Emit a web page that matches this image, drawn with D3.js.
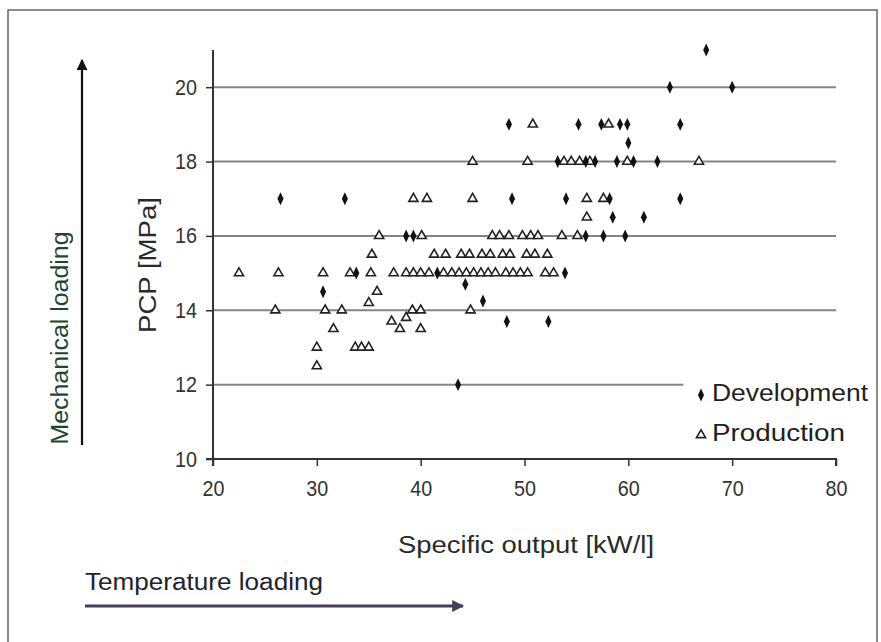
<!DOCTYPE html>
<html>
<head>
<meta charset="utf-8">
<script src="https://d3js.org/d3.v7.min.js"></script>
<style>
  body { margin: 0; background: #fff; }
  text { font-family: "Liberation Sans", Arial, sans-serif; }
</style>
</head>
<body>
<svg id="chart" width="881" height="642"></svg>
<script>
// data: [specific output kW/l, PCP MPa]
const development = [
  [67.5, 21], [64, 20], [70, 20],
  [48.5, 19], [55.2, 19], [57.4, 19], [59.2, 19], [59.9, 19], [65, 19],
  [60, 18.5],
  [53.2, 18], [55.9, 18], [56.8, 18], [58.9, 18], [60.5, 18], [62.8, 18],
  [26.5, 17], [32.7, 17], [48.8, 17], [54, 17], [58.2, 17], [65, 17],
  [58.5, 16.5], [61.5, 16.5],
  [38.6, 16], [39.3, 16], [55.9, 16], [57.6, 16], [59.7, 16],
  [33.8, 15], [41.6, 15], [53.9, 15],
  [44.3, 14.7], [30.6, 14.5], [46, 14.25],
  [48.3, 13.7], [52.3, 13.7],
  [43.6, 12]
];
const production = [
  [50.8, 19], [58.1, 19],
  [45, 18], [50.3, 18], [53.8, 18], [54.5, 18], [55.3, 18], [56.3, 18], [59.9, 18], [66.8, 18],
  [39.3, 17], [40.6, 17], [45, 17], [56, 17], [57.6, 17],
  [56, 16.5],
  [36, 16], [40.1, 16], [46.9, 16], [47.6, 16], [48.5, 16], [49.8, 16], [50.6, 16], [51.3, 16], [53.6, 16], [55.1, 16],
  [35.3, 15.5], [41.3, 15.5], [42.4, 15.5], [43.9, 15.5], [44.7, 15.5], [45.9, 15.5], [46.7, 15.5],
  [47.9, 15.5], [48.6, 15.5], [50.2, 15.5], [51, 15.5], [52.2, 15.5],
  [22.5, 15], [26.3, 15], [30.6, 15], [33.2, 15], [35.2, 15], [37.4, 15], [38.6, 15], [39.3, 15],
  [40, 15], [40.8, 15], [42.2, 15], [43, 15], [43.7, 15], [44.4, 15], [45.1, 15], [45.8, 15],
  [46.5, 15], [47.2, 15], [48.2, 15], [48.9, 15], [49.6, 15], [50.3, 15], [52, 15], [52.8, 15],
  [35.8, 14.5], [35, 14.2],
  [26, 14], [30.8, 14], [32.4, 14], [39.2, 14], [40, 14], [44.8, 14],
  [37.2, 13.7], [38.6, 13.8],
  [31.6, 13.5], [38, 13.5], [40, 13.5],
  [30, 13], [33.7, 13], [34.3, 13], [35, 13],
  [30, 12.5]
];
const xTicks = [20, 30, 40, 50, 60, 70, 80];
const yTicks = [10, 12, 14, 16, 18, 20];
const gridLines = [[12, 65.3], [14, 80], [16, 80], [18, 80], [20, 80]];

const svg = d3.select('svg#chart');

// frame
svg.append('rect')
  .attr('x', 8).attr('y', 10).attr('width', 869).attr('height', 640)
  .attr('fill', 'none').attr('stroke', '#666').attr('stroke-width', 1.5);

const x = d3.scaleLinear().domain([20, 80]).range([213, 836]);
const y = d3.scaleLinear().domain([10, 21]).range([459, 50]);

// grid
svg.append('g').selectAll('line')
  .data(gridLines)
  .join('line')
  .attr('x1', x(20)).attr('x2', d => x(d[1]))
  .attr('y1', d => y(d[0])).attr('y2', d => y(d[0]))
  .attr('stroke', '#858585').attr('stroke-width', 2);

// axes
const xAxis = svg.append('g')
  .attr('transform', `translate(0,${y(10)})`)
  .call(d3.axisBottom(x).tickValues(xTicks).tickSize(7).tickPadding(14));
const yAxis = svg.append('g')
  .attr('transform', `translate(${x(20)},0)`)
  .call(d3.axisLeft(y).tickValues(yTicks).tickSize(7).tickPadding(9));

[xAxis, yAxis].forEach(a => {
  a.select('.domain').attr('stroke', '#333').attr('stroke-width', 2);
  a.selectAll('.tick line').attr('stroke', '#333').attr('stroke-width', 1.5);
  a.selectAll('.tick text').attr('font-size', 22).attr('fill', '#333')
    .attr('textLength', 22).attr('lengthAdjust', 'spacingAndGlyphs')
    .style('font-family', '"Liberation Sans", Arial, sans-serif');
});
// y axis reaches to the top of the value range
yAxis.select('.domain').attr('d', `M-7,${y(10)}H0V${y(21)}`);
xAxis.select('.domain').attr('d', `M${x(20)},7V0H${x(80)}V7`);

// markers
const tri = d3.symbol().type(d3.symbolTriangle).size(36);
svg.append('g').selectAll('path')
  .data(production)
  .join('path')
  .attr('d', tri)
  .attr('transform', d => `translate(${x(d[0])},${y(d[1])})`)
  .attr('fill', '#fff').attr('stroke', '#222').attr('stroke-width', 1.6);

const dia = d3.symbol().type(d3.symbolDiamond).size(44);
svg.append('g').selectAll('path')
  .data(development)
  .join('path')
  .attr('d', dia)
  .attr('transform', d => `translate(${x(d[0])},${y(d[1])}) scale(0.85,1.05)`)
  .attr('fill', '#111');

// legend
const legend = svg.append('g');
legend.append('path').attr('d', dia)
  .attr('transform', 'translate(701,395) scale(0.85,1.05)').attr('fill', '#111');
legend.append('path').attr('d', tri)
  .attr('transform', 'translate(701,435)')
  .attr('fill', '#fff').attr('stroke', '#222').attr('stroke-width', 1.6);
legend.append('text').attr('x', 712).attr('y', 401).text('Development')
  .attr('font-size', 23).attr('fill', '#1e1e1e')
  .attr('textLength', 156).attr('lengthAdjust', 'spacingAndGlyphs');
legend.append('text').attr('x', 712).attr('y', 441).text('Production')
  .attr('font-size', 23).attr('fill', '#1e1e1e')
  .attr('textLength', 133).attr('lengthAdjust', 'spacingAndGlyphs');

// axis titles
svg.append('text')
  .attr('x', 526).attr('y', 553).attr('text-anchor', 'middle')
  .attr('font-size', 23).attr('fill', '#2a2a2a')
  .attr('textLength', 256).attr('lengthAdjust', 'spacingAndGlyphs')
  .text('Specific output [kW/l]');

svg.append('text')
  .attr('transform', 'translate(156,265) rotate(-90)')
  .attr('text-anchor', 'middle')
  .attr('font-size', 23).attr('fill', '#2a2a2a')
  .attr('textLength', 136).attr('lengthAdjust', 'spacingAndGlyphs')
  .text('PCP  [MPa]');

// loading annotations
svg.append('text')
  .attr('transform', 'translate(68,338) rotate(-90)')
  .attr('text-anchor', 'middle')
  .attr('font-size', 23).attr('fill', '#1e4632')
  .attr('textLength', 213).attr('lengthAdjust', 'spacingAndGlyphs')
  .text('Mechanical loading');

svg.append('text')
  .attr('x', 85).attr('y', 590)
  .attr('font-size', 23).attr('fill', '#222230')
  .attr('textLength', 238).attr('lengthAdjust', 'spacingAndGlyphs')
  .text('Temperature loading');

const defs = svg.append('defs');
defs.append('marker').attr('id', 'headV')
  .attr('viewBox', '0 0 10 10').attr('refX', 9).attr('refY', 5)
  .attr('markerWidth', 5).attr('markerHeight', 5).attr('orient', 'auto')
  .append('path').attr('d', 'M0,0L10,5L0,10Z').attr('fill', '#111');
defs.append('marker').attr('id', 'headH')
  .attr('viewBox', '0 0 10 10').attr('refX', 9).attr('refY', 5)
  .attr('markerWidth', 4).attr('markerHeight', 4).attr('orient', 'auto')
  .append('path').attr('d', 'M0,0L10,5L0,10Z').attr('fill', '#4a3c5c');

svg.append('line')
  .attr('x1', 82).attr('y1', 445).attr('x2', 82).attr('y2', 60)
  .attr('stroke', '#111').attr('stroke-width', 2.2).attr('marker-end', 'url(#headV)');
svg.append('line')
  .attr('x1', 85).attr('y1', 606).attr('x2', 463).attr('y2', 606)
  .attr('stroke', '#4a3c5c').attr('stroke-width', 3).attr('marker-end', 'url(#headH)');
</script>
</body>
</html>
